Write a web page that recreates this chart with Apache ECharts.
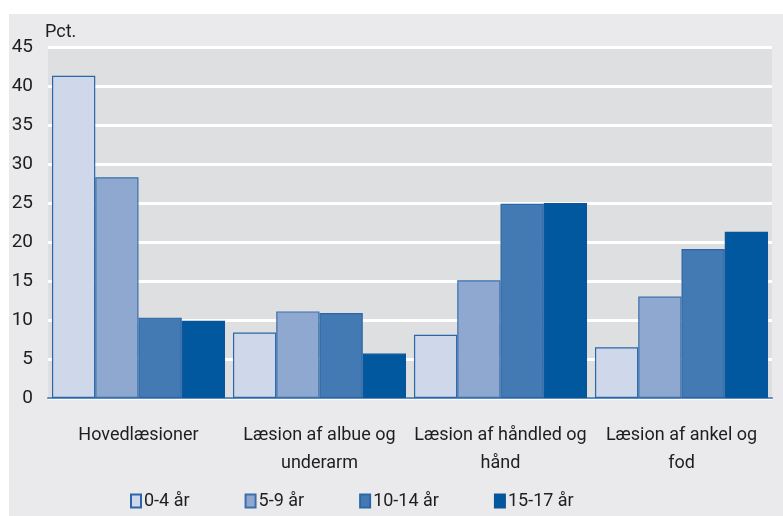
<!DOCTYPE html>
<html>
<head>
<meta charset="utf-8">
<script src="https://cdn.jsdelivr.net/npm/echarts@6/dist/echarts.min.js"></script>
<style>
  html, body { margin: 0; padding: 0; background: #ffffff; }
  #chart { width: 783px; height: 516px; }
</style>
</head>
<body>
<div id="chart"></div>
<script>
// Injury categories (x axis)
const categories = [
  'Hovedlæsioner',
  'Læsion af albue og\nunderarm',
  'Læsion af håndled og\nhånd',
  'Læsion af ankel og\nfod'
];

// Age groups
const ageGroups = ['0-4 år', '5-9 år', '10-14 år', '15-17 år'];

// Share of injuries (pct.) per age group
const age0to4   = [41.3, 8.4, 8.1, 6.5];
const age5to9   = [28.3, 11.1, 15.1, 13.0];
const age10to14 = [10.3, 10.9, 24.9, 19.1];
const age15to17 = [9.9, 5.7, 25.0, 21.3];

const yTicks = { min: 0, max: 45, interval: 5 };

const seriesValues = [age0to4, age5to9, age10to14, age15to17];
const fills = ['#cfd8ea', '#8ea8cf', '#437ab3', '#02589e'];
const borders = ['#2a67a8', '#3a70aa', '#2a67a8', '#0a5598'];

const font = '"Roboto", "Open Sans", sans-serif';

const chart = echarts.init(document.getElementById('chart'), null, { renderer: 'canvas' });

chart.setOption({
  backgroundColor: '#ffffff',
  animation: false,
  textStyle: { fontFamily: font },
  graphic: [
    {
      type: 'rect',
      z: -10,
      shape: { x: 9, y: 14, width: 774, height: 502 },
      style: { fill: '#eaeaec' }
    },
    {
      type: 'text',
      left: 45, top: 23,
      style: { text: 'Pct.', fill: '#1e1e1e', font: '18px ' + font }
    }
  ],
  grid: {
    left: 48, right: 11, top: 47, bottom: 118,
    show: true,
    backgroundColor: '#dedfe1',
    borderWidth: 0
  },
  legend: {
    data: ageGroups,
    top: 487,
    left: 125,
    itemGap: 55,
    itemWidth: 10,
    itemHeight: 13,
    icon: 'rect',
    textStyle: { fontFamily: font, fontSize: 18, color: '#1e1e1e', padding: [0, 0, 0, -2] }
  },
  xAxis: {
    type: 'category',
    data: categories,
    axisTick: { show: false },
    axisLine: { show: true, lineStyle: { color: '#5e8fc4', width: 2 } },
    axisLabel: {
      interval: 0,
      margin: 23,
      fontSize: 18,
      lineHeight: 28,
      color: '#1e1e1e',
      fontFamily: font
    }
  },
  yAxis: {
    type: 'value',
    min: yTicks.min,
    max: yTicks.max,
    interval: yTicks.interval,
    axisLine: { show: false },
    axisTick: { show: false },
    splitLine: { lineStyle: { color: '#ffffff', width: 3 } },
    axisLabel: { fontSize: 19, color: '#1e1e1e', margin: 15, fontFamily: font }
  },
  series: ageGroups.map((name, i) => ({
    name,
    type: 'bar',
    data: seriesValues[i],
    barGap: '0%',
    barCategoryGap: '4.4%',
    itemStyle: { color: fills[i], borderColor: borders[i], borderWidth: 1.2 }
  }))
});
</script>
</body>
</html>
